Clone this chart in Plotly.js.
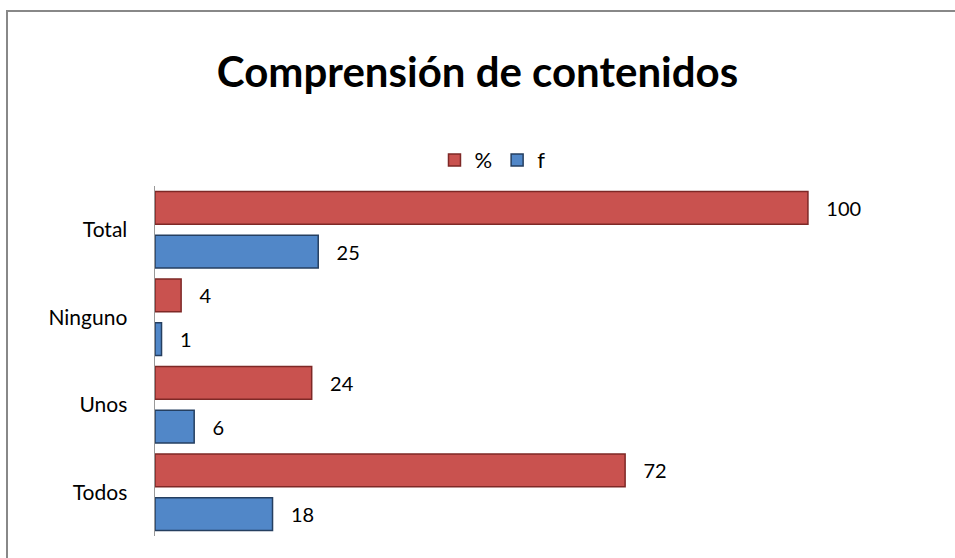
<!DOCTYPE html>
<html>
<head>
<meta charset="utf-8">
<script src="https://cdn.plot.ly/plotly-3.0.1.min.js"></script>
<style>
html, body { margin: 0; background: #fff; overflow: hidden; }
#wrap { position: relative; width: 955px; height: 558px; }
#frame { position: absolute; left: 6px; top: 10px; width: 960px; height: 560px;
         border-top: 2.5px solid #888; border-left: 2.5px solid #888; pointer-events: none; }
#chart { width: 955px; height: 558px; }
</style>
</head>
<body>
<div id="wrap">
<div id="chart"></div>
<div id="frame"></div>
</div>
<script>
var categories = ["Total", "Ninguno", "Unos", "Todos"];
var pctValues = [100, 4, 24, 72];
var fValues = [25, 1, 6, 18];

var pct = {
    name: "%",
    type: "bar",
    orientation: "h",
    y: categories,
    x: pctValues,
    text: pctValues.map(function (v) { return "   " + v; }),
    textposition: "outside",
    cliponaxis: false,
    textfont: {family: "Lato", size: 20, color: "#000"},
    marker: {color: "#C9524F", line: {color: "#7E2826", width: 1.5}}
};

var f = {
    name: "f",
    type: "bar",
    orientation: "h",
    y: categories,
    x: fValues,
    text: fValues.map(function (v) { return "   " + v; }),
    textposition: "outside",
    cliponaxis: false,
    textfont: {family: "Lato", size: 20, color: "#000"},
    marker: {color: "#5187C8", line: {color: "#253F60", width: 1.5}}
};

var layout = {
    width: 955,
    height: 558,
    margin: {l: 155, r: 55, t: 186, b: 22},
    paper_bgcolor: "#fff",
    plot_bgcolor: "#fff",
    font: {family: "Lato", size: 20, color: "#000"},
    title: {
        text: "<b>Comprensión de contenidos</b>",
        font: {family: "Lato", size: 42, color: "#000"},
        x: 0.5, xanchor: "center",
        y: 0.87, yanchor: "middle"
    },
    barmode: "group",
    bargap: 0,
    bargroupgap: 0.25,
    showlegend: true,
    legend: {
        orientation: "h",
        x: 0.453, xanchor: "center",
        y: 1.074, yanchor: "middle",
        font: {family: "Lato", size: 22},
        itemwidth: 30
    },
    xaxis: {
        range: [0, 114.1],
        showgrid: false,
        zeroline: false,
        showticklabels: false,
        showline: false,
        ticks: ""
    },
    yaxis: {
        type: "category",
        range: [3.5, -0.5],
        showgrid: false,
        zeroline: false,
        showline: true,
        linecolor: "#999",
        linewidth: 1.5,
        ticks: "",
        ticklabelstandoff: 22,
        tickfont: {family: "Lato", size: 21}
    }
};

Plotly.newPlot("chart", [pct, f], layout, {displayModeBar: false, staticPlot: true});
</script>
</body>
</html>
